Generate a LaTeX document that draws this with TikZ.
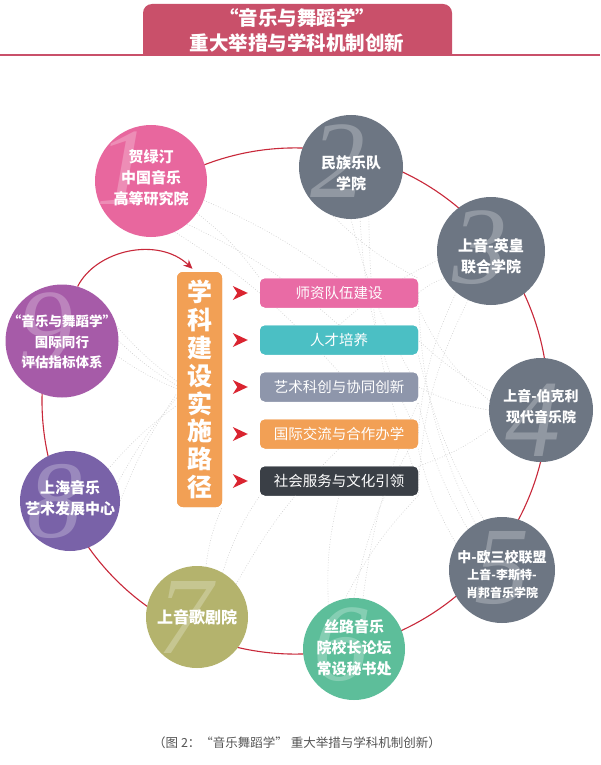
\documentclass[tikz,border=0pt]{standalone}
\usepackage{fontspec}
\newfontfamily\cjk{Noto Sans CJK SC}
\newfontfamily\numfont{Liberation Serif}
\usetikzlibrary{arrows.meta,calc}
\definecolor{titlered}{HTML}{C9506A}
\definecolor{ringred}{HTML}{C8283A}
\definecolor{arrred}{HTML}{DA2430}
\definecolor{cpink}{HTML}{E8679E}
\definecolor{cslate}{HTML}{6D7683}
\definecolor{cgreen}{HTML}{5DBE9A}
\definecolor{colive}{HTML}{B4B36D}
\definecolor{cviolet}{HTML}{7962A8}
\definecolor{cmagenta}{HTML}{A65BA8}
\definecolor{borange}{HTML}{F2A055}
\definecolor{bpink}{HTML}{E96BA5}
\definecolor{bteal}{HTML}{4BBFC4}
\definecolor{bgray}{HTML}{8E96AB}
\definecolor{bdark}{HTML}{3A3F46}
\definecolor{capgray}{HTML}{555555}
\tikzset{
  circ/.style={circle, inner sep=0pt, draw=none},
  digit/.style={font=\numfont\itshape\fontsize{110}{110}\selectfont, text=white, text opacity=0.25, inner sep=0pt},
  ctext/.style={font=\cjk\bfseries\fontsize{15}{21}\selectfont, text=white, align=center, inner sep=0pt},
  pbox/.style={rounded corners=5pt, minimum width=158pt, minimum height=29pt, inner sep=0pt, text=white, font=\cjk\fontsize{14.5}{16}\selectfont},
  ring/.style={draw=ringred, line width=1.1pt},
  dots/.style={draw=gray!35, line width=0.6pt, dash pattern=on 0.8pt off 1.8pt},
}
\begin{document}
\begin{tikzpicture}[x=1pt,y=-1pt]
\useasboundingbox (0,0) rectangle (600,765);
\fill[white] (0,0) rectangle (600,765);
% title
\draw[titlered, line width=2.5pt] (0,55) -- (600,55);
\fill[titlered] (143,56) {[rounded corners=9pt] -- (143,4) -- (452,4)} -- (452,56) -- cycle;
\node[font=\cjk\bfseries\fontsize{19.5}{25}\selectfont, text=white, align=center] (title) at (297,30) {“音乐与舞蹈学”\\重大举措与学科机制创新};
% circles (nodes first for naming)
\coordinate (ringc) at (295,401);
\path
  (151,181) node[circ, minimum size=112pt] (n1) {}
  (351,167) node[circ, minimum size=104pt] (n2) {}
  (491,251) node[circ, minimum size=108pt] (n3) {}
  (541,410) node[circ, minimum size=104pt] (n4) {}
  (502,570) node[circ, minimum size=106pt] (n5) {}
  (354,649) node[circ, minimum size=102pt] (n6) {}
  (197,617) node[circ, minimum size=102pt] (n7) {}
  (70,501)  node[circ, minimum size=100pt] (n8) {}
  (62,341)  node[circ, minimum size=113pt] (n9) {};
% center
\node[rounded corners=6pt, fill=borange, minimum width=45pt, minimum height=235pt, inner sep=0pt,
      text=white, font=\cjk\bfseries\fontsize{25}{27.9}\selectfont, align=center] (pathbox) at (199.5,389.5)
      {学\\科\\建\\设\\实\\施\\路\\径};
\node[pbox, fill=bpink] (b1) at (339,293) {师资队伍建设};
\node[pbox, fill=bteal] (b2) at (339,340) {人才培养};
\node[pbox, fill=bgray] (b3) at (339,387) {艺术科创与协同创新};
\node[pbox, fill=borange] (b4) at (339,434) {国际交流与合作办学};
\node[pbox, fill=bdark] (b5) at (339,481) {社会服务与文化引领};
% dotted links (behind)
\draw[dots] (n1.-35) to[bend left=8] (b1.north west);
\draw[dots] (n1.-50) to[bend left=8] (b2.north);
\draw[dots] (n1.-65) to[bend left=8] (b3.north);
\draw[dots] (n1.-20) to[bend left=6] (b1.north);
\draw[dots] (n2.-110) to[bend right=8] (b1.north east);
\draw[dots] (n2.-90) to[bend right=8] (b3.east);
\draw[dots] (n2.-70) to[bend right=10] (b5.east);
\draw[dots] (n2.-80) to[bend right=12] (b4.east);
\draw[dots] (n3.-150) to[bend right=8] (b1.east);
\draw[dots] (n3.-170) to[bend right=8] (b2.north);
\draw[dots] (n3.-130) to[bend right=10] (b4.east);
\draw[dots] (n3.-115) to[bend right=12] (b5.south east);
\draw[dots] (n4.160) to[bend left=8] (b2.east);
\draw[dots] (n4.180) to[bend left=8] (b3.east);
\draw[dots] (n4.200) to[bend left=8] (b5.north east);
\draw[dots] (n4.170) to[bend left=12] (b1.south east);
\draw[dots] (n5.130) to[bend left=8] (b3.south east);
\draw[dots] (n5.150) to[bend left=8] (b4.south east);
\draw[dots] (n5.110) to[bend left=8] (b2.south east);
\draw[dots] (n5.120) to[bend left=12] (b1.east);
\draw[dots] (n6.100) to[bend left=8] (b5.south east);
\draw[dots] (n6.80) to[bend left=8] (b3.south east);
\draw[dots] (n6.120) to[bend left=8] (b5.south);
\draw[dots] (n6.90) to[bend left=10] (b4.east);
\draw[dots] (n7.60) to[bend left=8] (b5.south west);
\draw[dots] (n7.40) to[bend left=8] (b4.south);
\draw[dots] (n7.80) to[bend left=8] (pathbox.south east);
\draw[dots] (n8.20) to[bend left=6] (pathbox.200);
\draw[dots] (n8.0) to[bend left=6] (pathbox.190);
\draw[dots] (n8.40) to[bend left=6] (pathbox.215);
\draw[dots] (n9.15) to[bend right=6] (pathbox.160);
\draw[dots] (n9.0) to[bend right=6] (pathbox.170);
\draw[dots] (n9.-15) to[bend right=6] (pathbox.178);
% redraw boxes on top of dots
\node[pbox, fill=bpink] at (b1) {师资队伍建设};
\node[pbox, fill=bteal] at (b2) {人才培养};
\node[pbox, fill=bgray] at (b3) {艺术科创与协同创新};
\node[pbox, fill=borange] at (b4) {国际交流与合作办学};
\node[pbox, fill=bdark] at (b5) {社会服务与文化引领};
\node[rounded corners=6pt, fill=borange, minimum width=45pt, minimum height=235pt, inner sep=0pt,
      text=white, font=\cjk\bfseries\fontsize{25}{27.9}\selectfont, align=center] at (pathbox)
      {学\\科\\建\\设\\实\\施\\路\\径};
% ring (one big arc passing under the circles)
\draw[ring] (ringc) ++(-112:253) arc[start angle=-112, end angle=203, radius=253];
\draw[ring, -{Stealth[length=9pt,width=8pt]}] (n9.74) .. controls (96,250) and (158,236) .. ([xshift=-7pt,yshift=3pt]pathbox.north);
% chevrons
\foreach \b in {b1,b2,b3,b4,b5}{
  \fill[arrred] ($(\b.west)+(-12,0)$) -- ++(-15,-7) -- ++(4.5,7) -- ++(-4.5,7) -- cycle;
}
% circle fills
\fill[cpink] (n1.center) circle (56pt);
\fill[cslate] (n2.center) circle (52pt);
\fill[cslate] (n3.center) circle (54pt);
\fill[cslate] (n4.center) circle (52pt);
\fill[cslate] (n5.center) circle (53pt);
\fill[cgreen] (n6.center) circle (51pt);
\fill[colive] (n7.center) circle (51pt);
\fill[cviolet] (n8.center) circle (50pt);
\fill[cmagenta] (n9.center) circle (56.5pt);
% digits
\node[digit] (d1) at ($(n1)+(-27,-13)$) {1};
\node[digit] (d2) at ($(n2)+(-13,-6)$) {2};
\node[digit] (d3) at ($(n3)+(-11,-3)$) {3};
\node[digit] (d4) at ($(n4)+(-8,10)$) {4};
\node[digit] (d5) at ($(n5)+(0,-2)$) {5};
\node[digit] (d6) at ($(n6)+(-13,-4)$) {6};
\node[digit] (d7) at ($(n7)+(-12,0)$) {7};
\node[digit] (d8) at ($(n8)+(-15,0)$) {8};
\node[digit] (d9) at ($(n9)+(-16,-11)$) {9};
% circle texts
\node[ctext] (t1) at (151,178) {贺绿汀\\中国音乐\\高等研究院};
\node[ctext] (t2) at (351,173) {民族乐队\\学院};
\node[ctext] (t3) at (491,256) {上音-英皇\\联合学院};
\node[ctext, font=\cjk\bfseries\fontsize{14}{21}\selectfont] (t4) at (541,407) {上音-伯克利\\现代音乐院};
\node[ctext, font=\cjk\bfseries\fontsize{14}{18}\selectfont] (t5) at (502,575) {中-欧三校联盟\\[-1pt]{\fontsize{12}{17}\selectfont 上音-李斯特-}\\{\fontsize{12}{17}\selectfont 肖邦音乐学院}};
\node[ctext] (t6) at (354,648) {丝路音乐\\院校长论坛\\常设秘书处};
\node[ctext, font=\cjk\bfseries\fontsize{16}{21}\selectfont] (t7) at (197,617) {上音歌剧院};
\node[ctext] (t8) at (70,498) {上海音乐\\艺术发展中心};
\node[ctext, font=\cjk\bfseries\fontsize{13.5}{20.5}\selectfont] (t9) at (62,342) {“音乐与舞蹈学”\\国际同行\\评估指标体系};
% caption
\node[font=\cjk\fontsize{12.5}{14}\selectfont, text=capgray] (cap) at (297,743) {（图 2：“音乐舞蹈学” 重大举措与学科机制创新）};
\end{tikzpicture}
\end{document}
